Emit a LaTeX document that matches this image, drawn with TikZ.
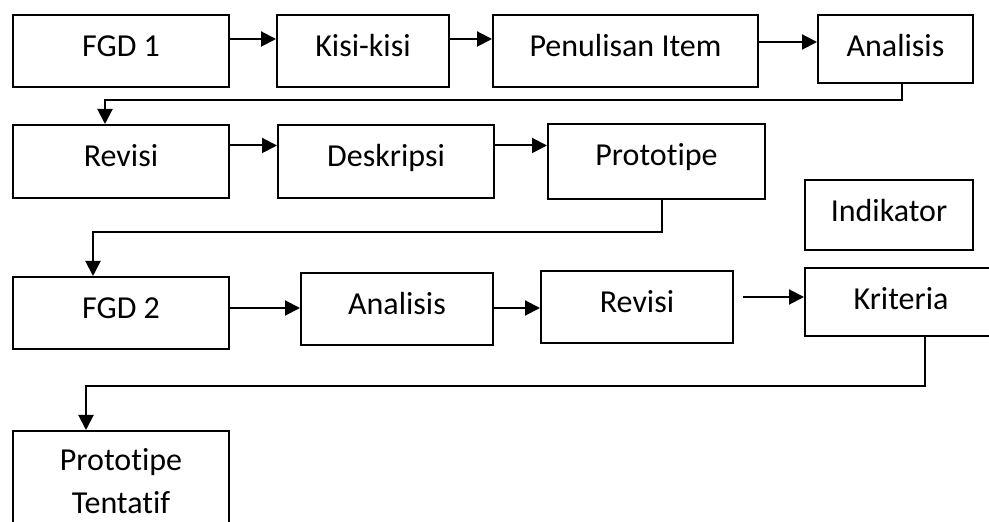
\documentclass[tikz,border=0pt]{standalone}
\usepackage{fontspec}
\setmainfont{Carlito}[Ligatures={NoCommon}]
\usetikzlibrary{arrows.meta}

\begin{document}
\begin{tikzpicture}[x=0.5pt, y=-0.5pt,
  box/.style={draw, line width=1pt, inner sep=0pt, text height=21pt, text depth=15pt,
    font=\fontsize{16}{21.5}\selectfont},
  arr/.style={line width=1pt, arrows={-Triangle[length=7.5pt,width=7.5pt]}},
  elbow/.style={line width=1pt, arrows={-Triangle[length=7.5pt,width=7.5pt]}}]
\useasboundingbox (0,0) rectangle (989,522);
\clip (0,0) rectangle (989,522);

% first row
\node [box, minimum width=108pt] (fgd1) at (121, 51) {FGD 1};
\node [box, minimum width=86pt] (kisi) at (363, 51) {Kisi-kisi};
\node [box, minimum width=132.5pt] (tulis) at (625.5, 51) {Penulisan Item};
\node [box, minimum width=77.5pt, text depth=13pt] (anal1) at (895.5, 49) {Analisis};
\draw [arr] ([yshift=6pt]fgd1.east) -- ([yshift=6pt]fgd1.east -| kisi.west);
\draw [arr] ([yshift=6pt]kisi.east) -- ([yshift=6pt]kisi.east -| tulis.west);
\draw [arr] ([yshift=4.5pt]tulis.east) -- ([yshift=4.5pt]tulis.east -| anal1.west);

% second row
\node [box, minimum width=108pt, text depth=15.5pt] (rev1) at (121, 161.5) {Revisi};
\node [box, minimum width=108pt, text depth=15.5pt] (desk) at (386, 161.5) {Deskripsi};
\node [box, minimum width=108.5pt, text depth=16.5pt] (proto) at (656.5, 161.5) {Prototipe};
\node [box, minimum width=84pt, text depth=14pt] (indi) at (889, 215) {Indikator};
\draw [elbow] ([xshift=3.25pt]anal1.south) -- ++(0, 16) -| ([xshift=-8pt]rev1.north);
\draw [arr] ([yshift=8pt]rev1.east) -- ([yshift=8pt]rev1.east -| desk.west);
\draw [arr] ([yshift=8pt]desk.east) -- ([yshift=8pt]desk.east -| proto.west);

% third row
\node [box, minimum width=108pt] (fgd2) at (121, 313) {FGD 2};
\node [box, minimum width=96pt] (anal2) at (397, 309) {Analisis};
\node [box, minimum width=96pt] (rev2) at (637, 307) {Revisi};
\node [box, minimum width=96pt, text depth=13pt] (krit) at (901, 302) {Kriteria};
\draw [elbow] ([xshift=2.75pt]proto.south) -- ++(0, 32) -| ([xshift=-14pt]fgd2.north);
\draw [arr] ([yshift=2.5pt]fgd2.east) -- ([yshift=2.5pt]fgd2.east -| anal2.west);
\draw [arr] ([yshift=0.5pt]anal2.east) -- ([yshift=0.5pt]anal2.east -| rev2.west);
\draw [arr] ([xshift=4.5pt, yshift=5pt]rev2.east) -- ([yshift=5pt]rev2.east -| krit.west);

% last box
\node [box, minimum width=108pt, minimum height=50pt, text height=, text depth=, align=center]
  (tent) at (121, 481) {Prototipe\\Tentatif};
\draw [elbow] ([xshift=12pt]krit.south) -- ++(0, 49) -| ([xshift=-17.5pt]tent.north);

\end{tikzpicture}
\end{document}
